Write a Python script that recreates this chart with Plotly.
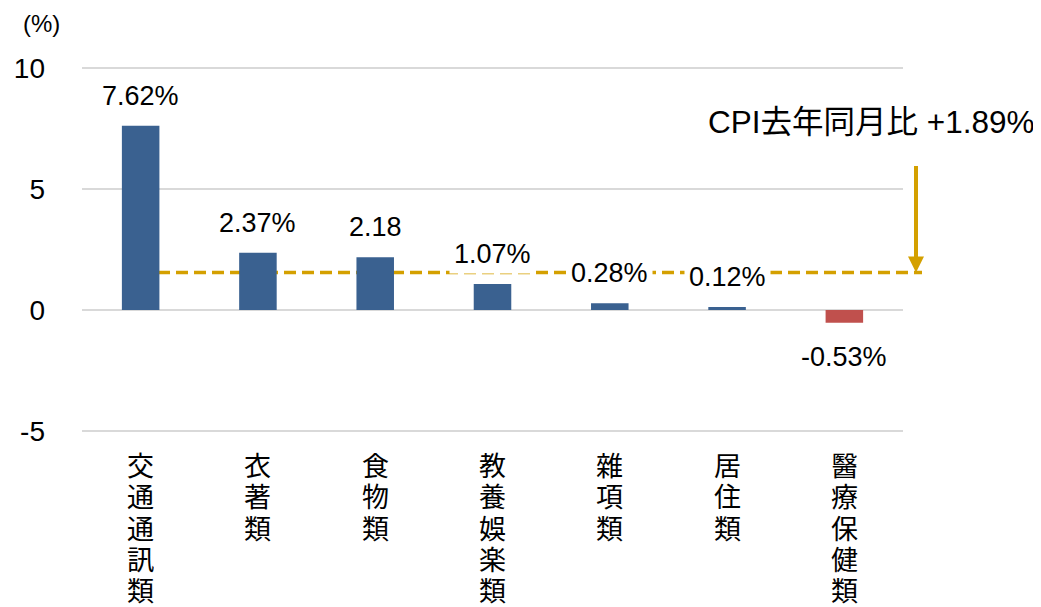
import plotly.graph_objects as go

categories = ["交通通訊類", "衣著類", "食物類", "教養娛楽類", "雜項類", "居住類", "醫療保健類"]
values = [7.62, 2.37, 2.18, 1.07, 0.28, 0.12, -0.53]
value_labels = ["7.62%", "2.37%", "2.18", "1.07%", "0.28%", "0.12%", "-0.53%"]
cpi_line_level = 1.55
cpi_label = "CPI去年同月比 +1.89%"
y_ticks = [-5, 0, 5, 10]

BLUE = "#3A6190"
RED = "#C0504D"
GOLD = "#D4A000"
NUM_FONT = "Liberation Sans, Arial, sans-serif"
CJK_FONT = "Noto Sans CJK JP, sans-serif"

# page offset from the browser's default body margin
OFF = 8
PLOT_L, PLOT_R, PLOT_T, PLOT_B = 82, 903, 67, 432
PW, PH = PLOT_R - PLOT_L, PLOT_B - PLOT_T


def px(X):
    return (X - PLOT_L) / PW


def py(Y):
    return (PLOT_B - Y) / PH


colors = [BLUE if v >= 0 else RED for v in values]

fig = go.Figure()
fig.add_trace(go.Bar(
    x=categories, y=values, marker=dict(color=colors, line=dict(width=0)),
    width=0.32, hoverinfo="skip",
))

annotations = []
for c, v, t in zip(categories, values, value_labels):
    annotations.append(dict(
        x=c, y=v, xref="x", yref="y", text=t, showarrow=False,
        yshift=30 if v >= 0 else -34,
        font=dict(family=NUM_FONT, size=27, color="black"),
        bgcolor="white", borderpad=4,
    ))

# vertical category labels (one character per line, tight spacing)
for c in categories:
    for i, ch in enumerate(c):
        annotations.append(dict(
            x=c, xref="x", yref="paper", y=0, yanchor="middle",
            yshift=-(32 + 31.3 * i), text=ch, showarrow=False,
            height=30, borderpad=0,
            font=dict(family=CJK_FONT, size=27, color="black"),
        ))

# CPI label
annotations.append(dict(
    xref="paper", yref="paper", x=px(706), y=py(122),
    xanchor="left", yanchor="middle",
    text=cpi_label, showarrow=False,
    font=dict(family="Liberation Sans, Noto Sans CJK JP, sans-serif", size=31.5, color="black"),
))
# arrow
annotations.append(dict(
    xref="paper", yref="y", x=px(916), y=cpi_line_level, ax=0, ay=-108,
    text="", showarrow=True,
    arrowhead=2, arrowsize=0.8, arrowwidth=4, arrowcolor=GOLD, standoff=0,
))
# (%) unit
annotations.append(dict(
    xref="paper", yref="paper", x=px(41), y=py(24), text="(%)",
    showarrow=False, xanchor="center", yanchor="middle",
    font=dict(family=NUM_FONT, size=24, color="black"),
))

fig.add_shape(
    type="line", xref="paper", yref="y", x0=px(158), x1=px(922),
    y0=cpi_line_level, y1=cpi_line_level,
    line=dict(color=GOLD, width=3.5, dash="12px,6px"), layer="between",
)

fig.update_layout(
    width=1041 - OFF, height=607 - OFF,
    margin=dict(l=PLOT_L - OFF, r=1041 - PLOT_R, t=PLOT_T - OFF, b=607 - PLOT_B,
                autoexpand=False),
    paper_bgcolor="white", plot_bgcolor="white",
    showlegend=False,
    annotations=annotations,
    xaxis=dict(
        categoryorder="array", categoryarray=categories,
        showticklabels=False,
        showgrid=False, showline=False, zeroline=False, ticks="",
        automargin=False,
    ),
    yaxis=dict(
        range=[-5.05, 10.05], tickvals=y_ticks, ticktext=[str(t) for t in y_ticks],
        tickfont=dict(family=NUM_FONT, size=28, color="black"),
        showgrid=True, gridcolor="#D9D9D9", gridwidth=1.5,
        zeroline=True, zerolinecolor="#D9D9D9", zerolinewidth=1.5,
        showline=False, ticks="", ticklabelstandoff=36, automargin=False,
    ),
)

fig.write_html("out.html")
